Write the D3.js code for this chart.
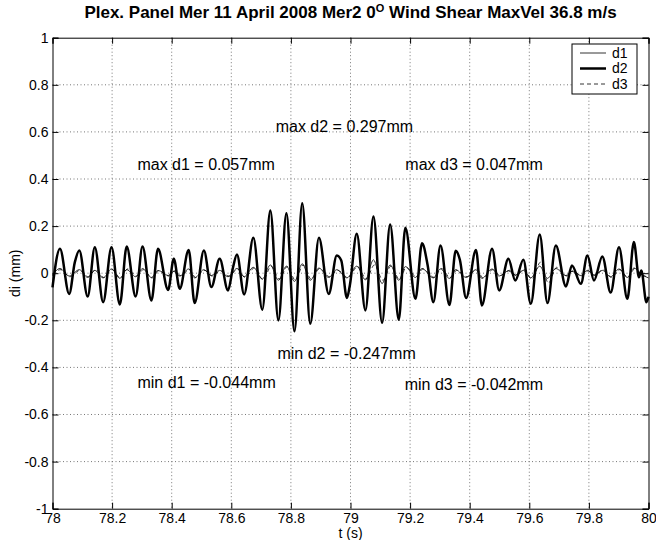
<!doctype html>
<html>
<head>
  <meta charset="utf-8">
  <title>Plex. Panel Mer 11 April 2008</title>
  <style>
    body { margin: 0; background: #fff; }
    svg { display: block; font-family: 'Liberation Sans', Arial, Helvetica, sans-serif; }
    .tick text { font-size: 14px; fill: #000; }
    .grid line { stroke: #777; stroke-width: 1; stroke-dasharray: 1, 2.5; }
  </style>
</head>
<body>
  <div id="chart"></div>
  <script src="https://cdnjs.cloudflare.com/ajax/libs/d3/7.8.5/d3.min.js"></script>
  <script>
    // d2: peaks and troughs, [t (s), di (mm)]
    var d2Data = [
      [78.000, -0.060], [78.025, 0.104], [78.056, -0.088], [78.075, 0.047], [78.090, 0.096],
      [78.118, -0.099], [78.142, 0.110], [78.170, -0.123], [78.198, 0.110], [78.226, -0.133],
      [78.249, 0.113], [78.279, -0.099], [78.302, 0.113], [78.332, -0.116], [78.354, 0.104],
      [78.388, -0.071], [78.407, 0.061], [78.427, -0.066], [78.457, 0.099], [78.477, -0.127],
      [78.508, 0.096], [78.533, -0.059], [78.561, 0.061], [78.589, -0.073], [78.605, 0.020],
      [78.619, 0.079], [78.643, -0.090], [78.674, 0.150], [78.704, -0.155], [78.731, 0.266],
      [78.758, -0.200], [78.785, 0.255], [78.812, -0.247], [78.838, 0.297], [78.865, -0.215],
      [78.894, 0.150], [78.927, -0.088], [78.954, 0.075], [78.969, 0.054], [78.988, -0.105],
      [78.998, -0.050], [79.021, 0.167], [79.050, -0.158], [79.077, 0.241], [79.106, -0.210],
      [79.133, 0.207], [79.162, -0.198], [79.184, 0.193], [79.218, -0.109], [79.240, 0.127],
      [79.259, 0.033], [79.278, -0.123], [79.302, 0.118], [79.332, -0.135], [79.353, 0.095],
      [79.367, 0.057], [79.388, -0.105], [79.421, 0.099], [79.441, -0.137], [79.475, 0.104],
      [79.499, -0.073], [79.530, 0.061], [79.553, -0.031], [79.580, 0.057], [79.605, -0.130],
      [79.635, 0.164], [79.661, -0.127], [79.689, 0.118], [79.723, -0.056], [79.743, 0.033],
      [79.773, -0.045], [79.795, 0.075], [79.817, -0.031], [79.845, 0.071], [79.873, -0.082],
      [79.901, 0.110], [79.929, -0.109], [79.951, 0.132], [79.968, -0.017], [79.976, 0.011],
      [79.993, -0.123], [80.000, -0.100]
    ];

    // d1 and d3: small wiggles around zero
    var d1Data = [
      [78.000, -0.010], [78.025, 0.020], [78.056, -0.012], [78.090, 0.015], [78.118, -0.018],
      [78.142, 0.012], [78.170, -0.020], [78.198, 0.018], [78.226, -0.022], [78.249, 0.015],
      [78.279, -0.015], [78.302, 0.020], [78.332, -0.018], [78.354, 0.012], [78.388, -0.010],
      [78.407, 0.008], [78.427, -0.012], [78.457, 0.018], [78.477, -0.020], [78.508, 0.015],
      [78.533, -0.010], [78.561, 0.012], [78.589, -0.015], [78.619, 0.020], [78.643, -0.015],
      [78.674, 0.025], [78.704, -0.025], [78.731, 0.035], [78.758, -0.030], [78.785, 0.030],
      [78.812, -0.035], [78.838, 0.040], [78.865, -0.030], [78.894, 0.022], [78.927, -0.018],
      [78.954, 0.015], [78.988, -0.020], [79.021, 0.030], [79.050, -0.028], [79.077, 0.057],
      [79.106, -0.044], [79.133, 0.035], [79.162, -0.030], [79.184, 0.028], [79.218, -0.018],
      [79.240, 0.020], [79.278, -0.020], [79.302, 0.018], [79.332, -0.022], [79.353, 0.015],
      [79.388, -0.018], [79.421, 0.015], [79.441, -0.022], [79.475, 0.018], [79.499, -0.012],
      [79.530, 0.010], [79.553, -0.008], [79.580, 0.012], [79.605, -0.020], [79.635, 0.030],
      [79.661, -0.022], [79.689, 0.020], [79.723, -0.010], [79.743, 0.008], [79.773, -0.010],
      [79.795, 0.012], [79.817, -0.008], [79.845, 0.012], [79.873, -0.015], [79.901, 0.018],
      [79.929, -0.018], [79.951, 0.022], [79.976, -0.005], [80.000, -0.020]
    ];

    var d3Data = [
      [78.000, -0.005], [78.028, 0.015], [78.058, -0.015], [78.092, 0.012], [78.120, -0.015],
      [78.145, 0.015], [78.172, -0.018], [78.200, 0.015], [78.228, -0.020], [78.252, 0.018],
      [78.281, -0.012], [78.305, 0.015], [78.334, -0.020], [78.357, 0.010], [78.390, -0.012],
      [78.410, 0.010], [78.430, -0.010], [78.460, 0.015], [78.480, -0.018], [78.511, 0.012],
      [78.536, -0.012], [78.564, 0.010], [78.592, -0.012], [78.622, 0.018], [78.646, -0.018],
      [78.677, 0.022], [78.707, -0.028], [78.734, 0.030], [78.761, -0.025], [78.788, 0.028],
      [78.815, -0.030], [78.841, 0.035], [78.868, -0.025], [78.897, 0.020], [78.930, -0.015],
      [78.957, 0.012], [78.991, -0.018], [79.024, 0.028], [79.053, -0.025], [79.080, 0.035],
      [79.109, -0.030], [79.136, 0.030], [79.165, -0.028], [79.187, 0.025], [79.221, -0.015],
      [79.243, 0.018], [79.281, -0.018], [79.305, 0.020], [79.335, -0.020], [79.356, 0.012],
      [79.391, -0.015], [79.424, 0.018], [79.444, -0.020], [79.478, 0.015], [79.502, -0.010],
      [79.533, 0.012], [79.556, -0.010], [79.583, 0.015], [79.608, -0.025], [79.638, 0.047],
      [79.664, -0.042], [79.692, 0.025], [79.726, -0.012], [79.746, 0.010], [79.776, -0.012],
      [79.798, 0.010], [79.820, -0.010], [79.848, 0.015], [79.876, -0.018], [79.904, 0.015],
      [79.932, -0.020], [79.954, 0.020], [79.979, -0.008], [80.000, -0.015]
    ];

    var seriesNames = ["d1", "d2", "d3"];
    var xTicks = [78, 78.2, 78.4, 78.6, 78.8, 79, 79.2, 79.4, 79.6, 79.8, 80];
    var yTicks = [-1, -0.8, -0.6, -0.4, -0.2, 0, 0.2, 0.4, 0.6, 0.8, 1];

    // text annotations [label, t, di] (baseline-left anchored)
    var notes = [
      ["max d2 = 0.297mm", 78.749, 0.600],
      ["max d1 = 0.057mm", 78.285, 0.437],
      ["max d3 = 0.047mm", 79.184, 0.439],
      ["min d2 = -0.247mm", 78.755, -0.364],
      ["min d1 = -0.044mm", 78.285, -0.487],
      ["min d3 = -0.042mm", 79.182, -0.495]
    ];

    var width = 656, height = 540;
    var margin = { top: 37.7, right: 7.5, bottom: 31.3, left: 52.5 };
    var innerW = width - margin.left - margin.right;
    var innerH = height - margin.top - margin.bottom;

    var x = d3.scaleLinear().domain([78, 80]).range([0, innerW]);
    var y = d3.scaleLinear().domain([-1, 1]).range([innerH, 0]);
    var fmt = d => String(+d.toFixed(1));

    var svg = d3.select("#chart").append("svg")
      .attr("width", width).attr("height", height);
    svg.append("rect").attr("width", width).attr("height", height).attr("fill", "#fff");

    var g = svg.append("g").attr("transform", `translate(${margin.left},${margin.top})`);

    // grid
    var grid = g.append("g").attr("class", "grid");
    grid.selectAll(".gx").data(xTicks.slice(1, -1)).join("line")
      .attr("x1", d => x(d)).attr("x2", d => x(d)).attr("y1", 0).attr("y2", innerH);
    grid.selectAll(".gy").data(yTicks.slice(1, -1)).join("line")
      .attr("y1", d => y(d)).attr("y2", d => y(d)).attr("x1", 0).attr("x2", innerW);

    // axes (MATLAB style: inward ticks, box on)
    g.append("g").attr("transform", `translate(0,${innerH})`)
      .call(d3.axisBottom(x).tickValues(xTicks).tickFormat(fmt).tickSize(-6).tickPadding(4));
    g.append("g")
      .call(d3.axisLeft(y).tickValues(yTicks).tickFormat(fmt).tickSize(-6).tickPadding(4));
    g.append("g")
      .call(d3.axisTop(x).tickValues(xTicks).tickFormat("").tickSize(-6));
    g.append("g").attr("transform", `translate(${innerW},0)`)
      .call(d3.axisRight(y).tickValues(yTicks).tickFormat("").tickSize(-6));
    g.selectAll(".domain").attr("stroke", "#000");
    g.selectAll(".tick line").attr("stroke", "#000");

    // lines
    var line = d3.line().x(d => x(d[0])).y(d => y(d[1])).curve(d3.curveMonotoneX);

    g.append("path").datum(d1Data).attr("d", line)
      .attr("fill", "none").attr("stroke", "#000").attr("stroke-width", 0.8);
    g.append("path").datum(d3Data).attr("d", line)
      .attr("fill", "none").attr("stroke", "#000").attr("stroke-width", 0.8)
      .attr("stroke-dasharray", "4,3");
    g.append("path").datum(d2Data).attr("d", line)
      .attr("fill", "none").attr("stroke", "#000").attr("stroke-width", 2.5)
      .attr("stroke-linejoin", "round");

    // annotations
    g.selectAll(".note").data(notes).join("text")
      .attr("class", "note")
      .attr("x", d => x(d[1])).attr("y", d => y(d[2]))
      .attr("font-size", 16).attr("fill", "#000")
      .text(d => d[0]);

    // legend
    var legend = svg.append("g").attr("transform", "translate(572,44)");
    legend.append("rect").attr("width", 65).attr("height", 50)
      .attr("fill", "#fff").attr("stroke", "#000").attr("stroke-width", 1);
    var styles = [
      { w: 0.8, dash: null },
      { w: 2.5, dash: null },
      { w: 0.8, dash: "4,3" }
    ];
    seriesNames.forEach((name, i) => {
      var yy = 9 + i * 15.5;
      legend.append("line").attr("x1", 8).attr("x2", 34).attr("y1", yy).attr("y2", yy)
        .attr("stroke", "#000").attr("stroke-width", styles[i].w)
        .attr("stroke-dasharray", styles[i].dash);
      legend.append("text").attr("x", 40).attr("y", yy).attr("dy", "0.35em")
        .attr("font-size", 14).text(name);
    });

    // title
    var title = svg.append("text")
      .attr("x", margin.left + innerW / 2).attr("y", 18)
      .attr("text-anchor", "middle").attr("font-size", 17).attr("font-weight", "bold");
    title.append("tspan").text("Plex. Panel Mer 11 April 2008 Mer2 0");
    title.append("tspan").attr("font-size", 11).attr("dy", -6).text("O");
    title.append("tspan").attr("dy", 6).text(" Wind Shear MaxVel 36.8 m/s");

    // axis labels
    svg.append("text")
      .attr("x", margin.left + innerW / 2).attr("y", 538)
      .attr("text-anchor", "middle").attr("font-size", 14).text("t (s)");
    svg.append("text")
      .attr("transform", `translate(20,${margin.top + innerH / 2}) rotate(-90)`)
      .attr("text-anchor", "middle").attr("font-size", 14).text("di (mm)");
  </script>
</body>
</html>
